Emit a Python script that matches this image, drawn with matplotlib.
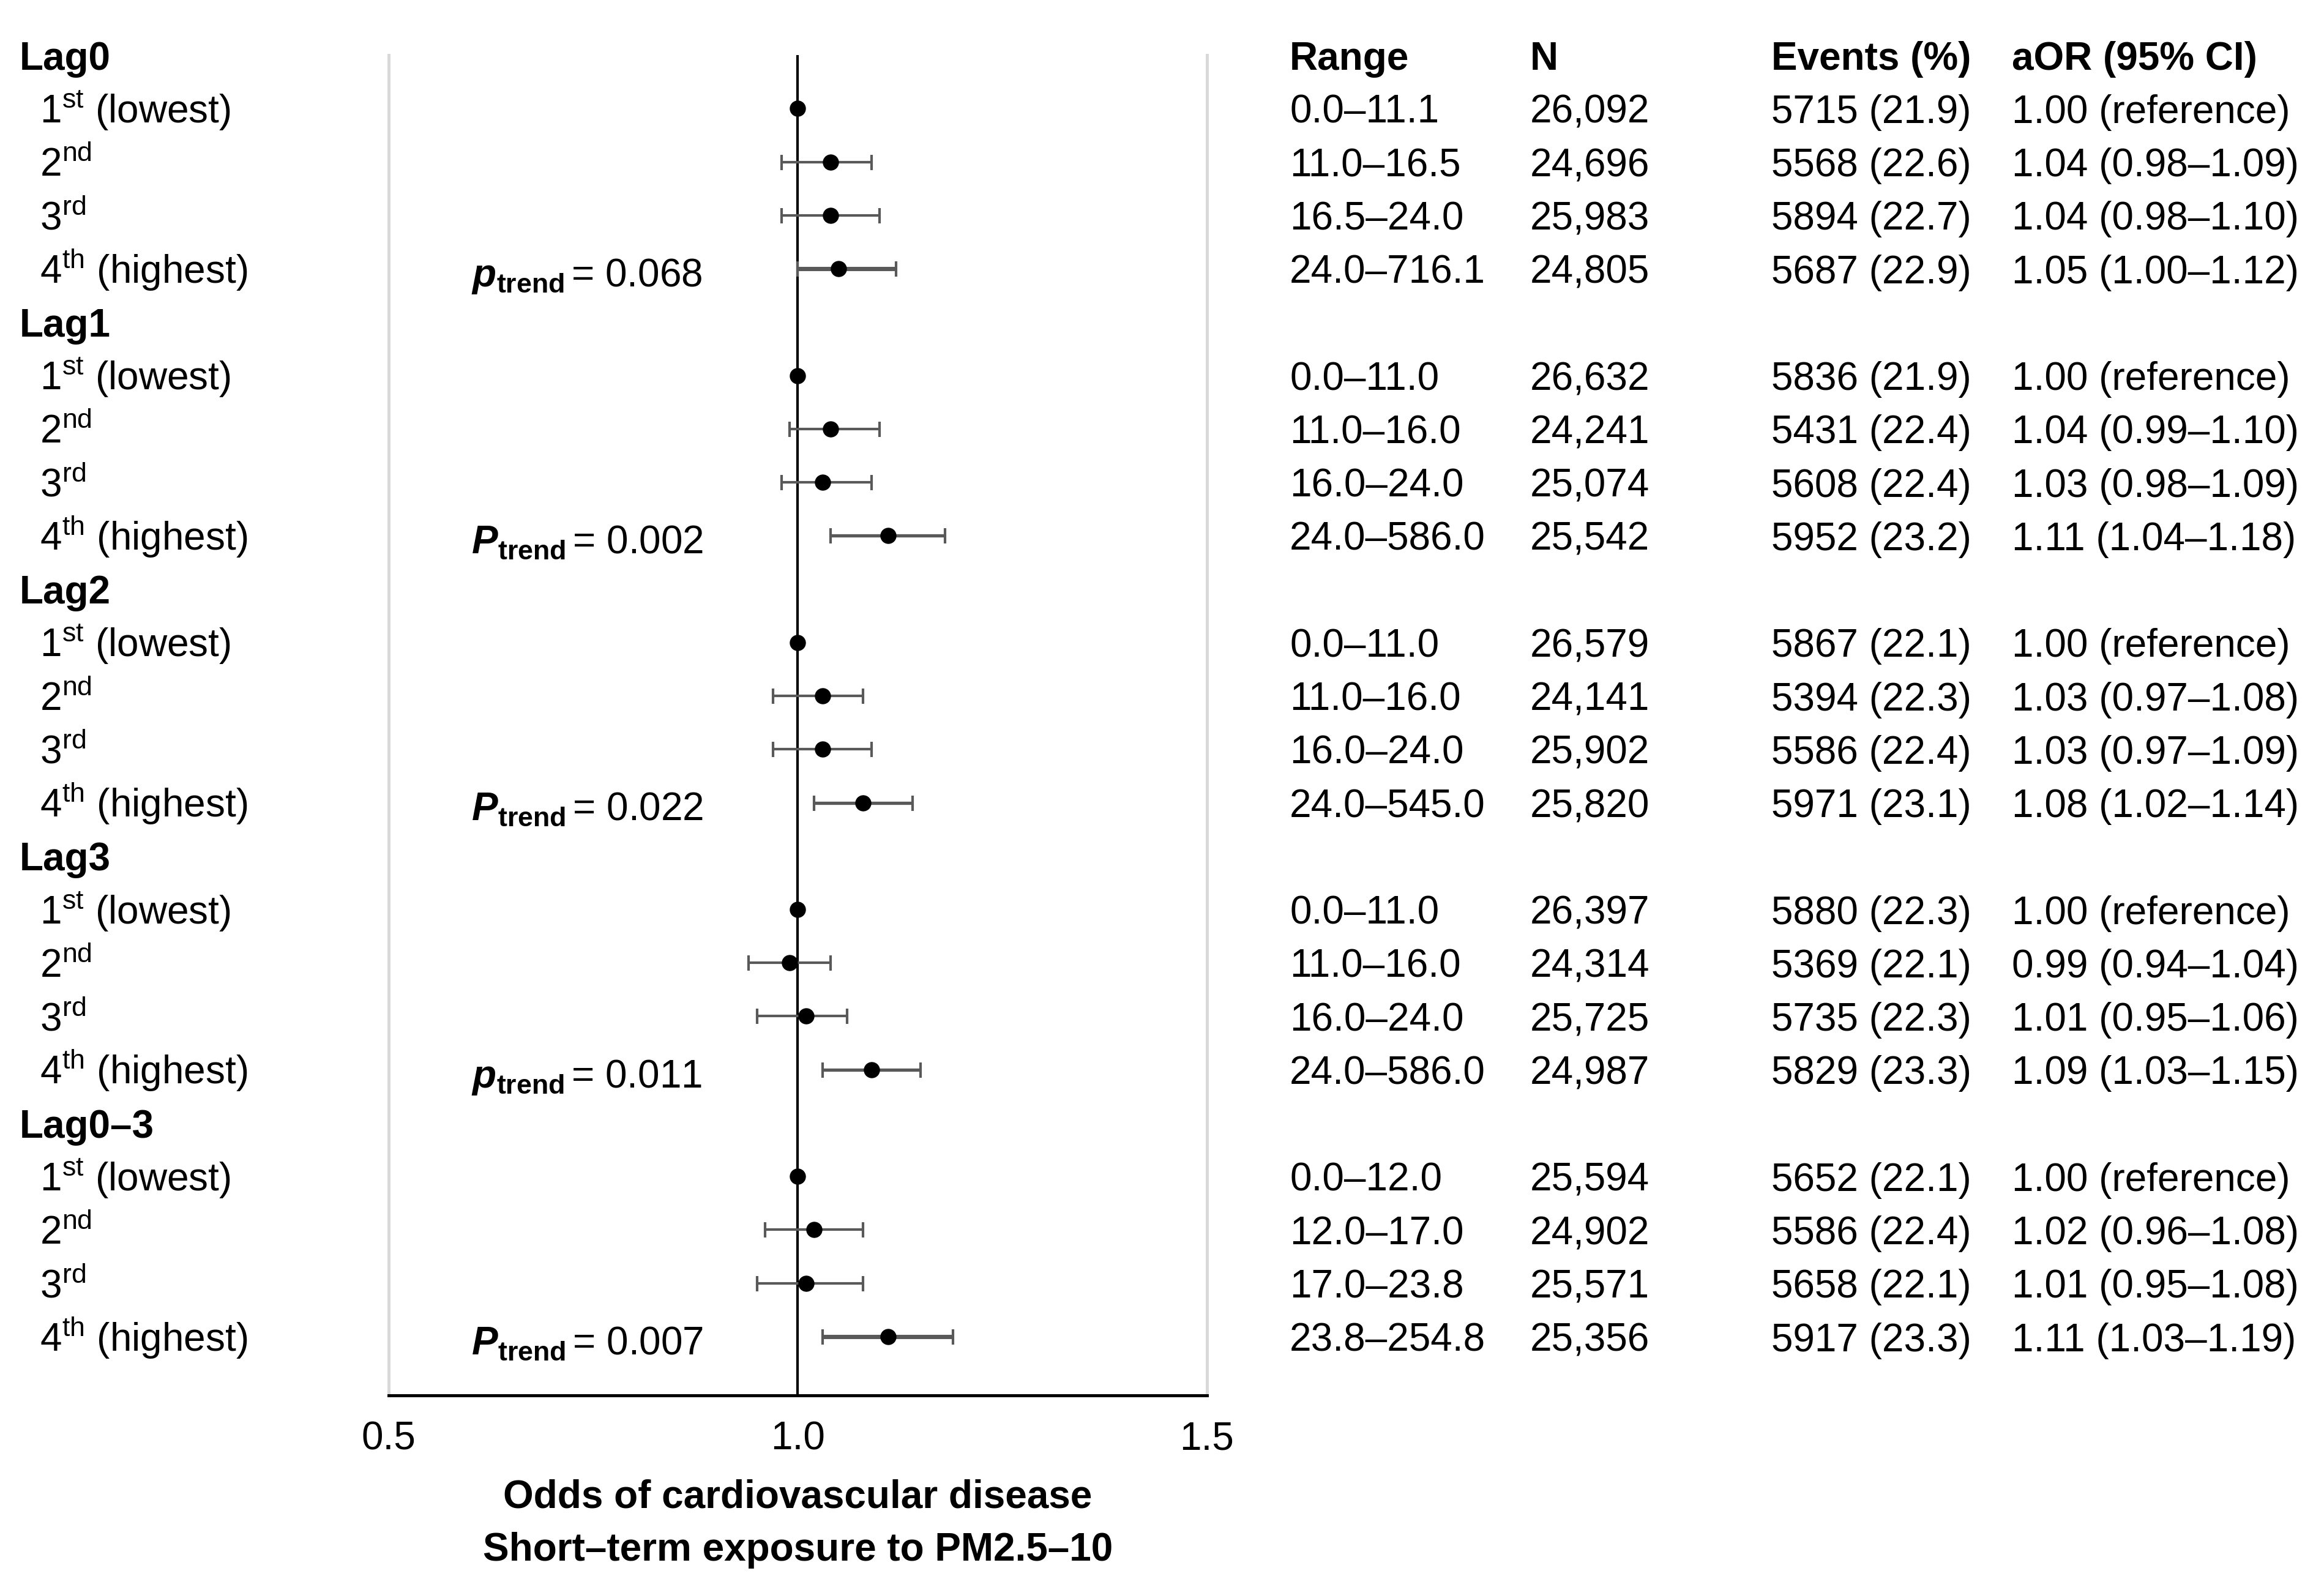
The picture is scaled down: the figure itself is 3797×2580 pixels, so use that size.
import matplotlib
matplotlib.use("Agg")
import matplotlib.pyplot as plt
from matplotlib.transforms import blended_transform_factory

plt.rcParams["font.family"] = "sans-serif"
plt.rcParams["font.sans-serif"] = ["Liberation Sans", "DejaVu Sans"]
plt.rcParams["mathtext.fontset"] = "custom"
plt.rcParams["mathtext.rm"] = "Liberation Sans"
plt.rcParams["mathtext.it"] = "Liberation Sans:italic"
plt.rcParams["mathtext.bf"] = "Liberation Sans:bold"
plt.rcParams["mathtext.bfit"] = "Liberation Sans:italic:bold"

lags = ["Lag0", "Lag1", "Lag2", "Lag3", "Lag0–3"]
quartiles = [r"1$^{\mathrm{st}}$ (lowest)", r"2$^{\mathrm{nd}}$", r"3$^{\mathrm{rd}}$",
             r"4$^{\mathrm{th}}$ (highest)"]

ranges = [
    ["0.0–11.1", "11.0–16.5", "16.5–24.0", "24.0–716.1"],
    ["0.0–11.0", "11.0–16.0", "16.0–24.0", "24.0–586.0"],
    ["0.0–11.0", "11.0–16.0", "16.0–24.0", "24.0–545.0"],
    ["0.0–11.0", "11.0–16.0", "16.0–24.0", "24.0–586.0"],
    ["0.0–12.0", "12.0–17.0", "17.0–23.8", "23.8–254.8"],
]
n_obs = [
    [26092, 24696, 25983, 24805],
    [26632, 24241, 25074, 25542],
    [26579, 24141, 25902, 25820],
    [26397, 24314, 25725, 24987],
    [25594, 24902, 25571, 25356],
]
events = [
    [5715, 5568, 5894, 5687],
    [5836, 5431, 5608, 5952],
    [5867, 5394, 5586, 5971],
    [5880, 5369, 5735, 5829],
    [5652, 5586, 5658, 5917],
]
event_pct = [
    [21.9, 22.6, 22.7, 22.9],
    [21.9, 22.4, 22.4, 23.2],
    [22.1, 22.3, 22.4, 23.1],
    [22.3, 22.1, 22.3, 23.3],
    [22.1, 22.4, 22.1, 23.3],
]
aor = [
    [1.00, 1.04, 1.04, 1.05],
    [1.00, 1.04, 1.03, 1.11],
    [1.00, 1.03, 1.03, 1.08],
    [1.00, 0.99, 1.01, 1.09],
    [1.00, 1.02, 1.01, 1.11],
]
ci_low = [
    [None, 0.98, 0.98, 1.00],
    [None, 0.99, 0.98, 1.04],
    [None, 0.97, 0.97, 1.02],
    [None, 0.94, 0.95, 1.03],
    [None, 0.96, 0.95, 1.03],
]
ci_high = [
    [None, 1.09, 1.10, 1.12],
    [None, 1.10, 1.09, 1.18],
    [None, 1.08, 1.09, 1.14],
    [None, 1.04, 1.06, 1.15],
    [None, 1.08, 1.08, 1.19],
]
p_letter = ["p", "P", "P", "p", "P"]
p_trend = ["0.068", "0.002", "0.022", "0.011", "0.007"]

FS = 46
fig = plt.figure(figsize=(37.98, 25.8), dpi=100)
ax = fig.add_axes([0.1672, 0.1163, 0.3520, 0.8488])
ax.set_xlim(0.5, 1.5)
ax.set_ylim(25.1, 0)

for s in ["left", "right"]:
    ax.spines[s].set_color("#d9d9d9")
    ax.spines[s].set_linewidth(3.6)
ax.spines["top"].set_visible(False)
ax.spines["bottom"].set_color("black")
ax.spines["bottom"].set_linewidth(3.6)
ax.set_yticks([])
ax.set_xticks([0.5, 1.0, 1.5])
ax.set_xticklabels(["0.5", "1.0", "1.5"])
ax.tick_params(axis="x", length=0, pad=30, labelsize=FS)

ax.axvline(1.0, color="black", lw=3.0, zorder=2)

tr = blended_transform_factory(fig.transFigure, ax.transData)
off = 0.27

for g, lag in enumerate(lags):
    y0 = g * 5
    fig.text(0.0083, y0 + off, lag, transform=tr, fontsize=FS, fontweight="bold", va="baseline")
    for j in range(4):
        y = y0 + 1 + j
        fig.text(0.0172, y + off, quartiles[j], transform=tr, fontsize=FS, va="baseline")
        fig.text(0.5548, y + off, ranges[g][j], transform=tr, fontsize=FS, va="baseline")
        fig.text(0.6582, y + off, f"{n_obs[g][j]:,}", transform=tr, fontsize=FS, va="baseline")
        fig.text(0.7621, y + off, f"{events[g][j]} ({event_pct[g][j]:.1f})", transform=tr,
                 fontsize=FS, va="baseline")
        if ci_low[g][j] is None:
            txt = f"{aor[g][j]:.2f} (reference)"
            ax.plot(aor[g][j], y, "o", color="black", ms=18, zorder=4)
        else:
            txt = f"{aor[g][j]:.2f} ({ci_low[g][j]:.2f}–{ci_high[g][j]:.2f})"
            lw = 3.0
            if j == 3:
                lw = 5.0 if lag in ("Lag0", "Lag0–3") else 3.8
            ax.errorbar(aor[g][j], y,
                        xerr=[[aor[g][j] - ci_low[g][j]], [ci_high[g][j] - aor[g][j]]],
                        fmt="o", color="black", ms=18, ecolor="#595959", elinewidth=lw,
                        capsize=9, capthick=3.0, zorder=4)
        fig.text(0.8654, y + off, txt, transform=tr, fontsize=FS, va="baseline")
    # p for trend
    fig.text(0.2028, y0 + 4 + 0.33,
             r"$\mathbfit{" + p_letter[g] + r"}_{\mathbf{trend}}\,$" + f"= {p_trend[g]}",
             transform=tr, fontsize=FS, va="baseline")

headers = ["Range", "N", "Events (%)", "aOR (95% CI)"]
for x, h in zip([0.5548, 0.6582, 0.7621, 0.8654], headers):
    fig.text(x, 0 + off, h, transform=tr, fontsize=FS, fontweight="bold", va="baseline")

fig.text(0.3432, 0.0453, "Odds of cardiovascular disease", fontsize=FS, fontweight="bold",
         ha="center", va="baseline")
fig.text(0.3432, 0.0116, "Short–term exposure to PM2.5–10", fontsize=FS, fontweight="bold",
         ha="center", va="baseline")

fig.savefig("out.png", dpi=100)
